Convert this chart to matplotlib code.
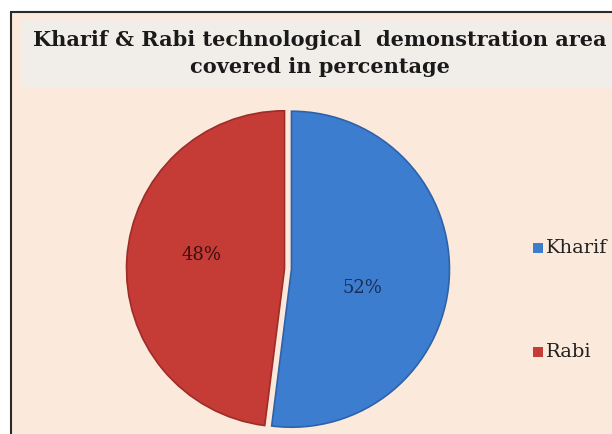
import matplotlib
matplotlib.use("Agg")
import matplotlib.pyplot as plt
from matplotlib.patches import Rectangle

categories = ["Kharif", "Rabi"]
values = [52, 48]
labels = ["52%", "48%"]
colors = ["#3D7DD0", "#C53B36"]
edge_colors = ["#2E62A8", "#9E2C28"]
label_colors = ["#1A2F55", "#3A1010"]
title = "Kharif & Rabi technological  demonstration area\ncovered in percentage"

W, H = 612, 434
fig = plt.figure(figsize=(W / 100, H / 100), dpi=100)
fig.patch.set_facecolor("white")

# background frame
bg = fig.add_axes([0, 0, 1, 1])
bg.set_xlim(0, W)
bg.set_ylim(H, 0)
bg.axis("off")
bg.add_patch(Rectangle((11, 12), W + 20, H + 20, facecolor="#FBEADC",
                       edgecolor="#2a2a2a", linewidth=1.5))
bg.add_patch(Rectangle((22, 20), W, 68, facecolor="#F1EEEA", edgecolor="none"))
bg.text(320, 30, title, ha="center", va="top", fontsize=15, fontweight="bold",
        family="DejaVu Serif", color="#1a1a1a", linespacing=1.45)

# pie axes: center (288, 269) px, radius 158 px
cx, cy, R = 288, 269, 158
half = 175
ax = fig.add_axes([(cx - half) / W, (H - cy - half) / H, 2 * half / W, 2 * half / H])
lim = half / R
ax.axis("off")
wedges, texts = ax.pie(values, colors=colors, startangle=90, counterclock=False,
                       explode=[0.022, 0.022], radius=1.0,
                       wedgeprops=dict(linewidth=1.2), frame=False)
for w, ec in zip(wedges, edge_colors):
    w.set_clip_on(False)
    w.set_edgecolor(ec)
ax.set_xlim(-lim, lim)
ax.set_ylim(-lim, lim)
ax.set_aspect("auto")

# value labels
ax.text(0.47, -0.12, labels[0], ha="center", va="center", fontsize=13,
        family="DejaVu Serif", color=label_colors[0])
ax.text(-0.55, 0.09, labels[1], ha="center", va="center", fontsize=13,
        family="DejaVu Serif", color=label_colors[1])

# legend
leg_y = [248, 352]
for c, name, y in zip(colors, categories, leg_y):
    bg.add_patch(Rectangle((533, y - 5), 10, 10, facecolor=c, edgecolor="none"))
    bg.text(546, y, name, ha="left", va="center", fontsize=14,
            family="DejaVu Serif", color="#222222")

fig.savefig("out.png", dpi=100)
